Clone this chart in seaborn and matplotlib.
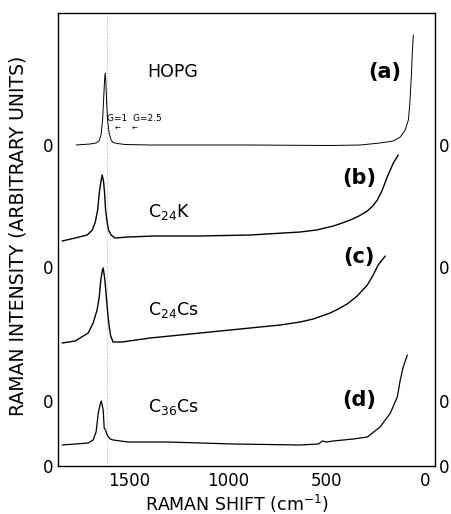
import numpy as np
import pandas as pd
import matplotlib
matplotlib.use("Agg")
import matplotlib.pyplot as plt
import seaborn as sns

# Raman shift (cm^-1) and intensity (arb. units, relative to each trace's own zero)
hopg_shift = [1768, 1697, 1667, 1652, 1642, 1634, 1629, 1624, 1621, 1618, 1614, 1609,
              1601, 1591, 1581, 1560, 1520, 1393, 886, 481, 329, 228, 161, 126, 101,
              85, 78, 70, 65, 60]
hopg_int = [0.00, 0.01, 0.02, 0.04, 0.10, 0.25, 0.45, 0.65, 0.72, 0.65, 0.45, 0.25,
            0.12, 0.05, 0.025, 0.015, 0.005, 0.0, 0.0, -0.005, 0.0, 0.02, 0.04, 0.08,
            0.15, 0.25, 0.40, 0.68, 0.92, 1.10]

c24k_shift = [1839, 1773, 1712, 1686, 1671, 1659, 1651, 1643, 1636, 1629, 1624, 1619,
              1611, 1604, 1591, 1571, 1505, 1368, 1139, 886, 633, 550, 465, 420, 379,
              335, 293, 265, 242, 217, 192, 161, 136]
c24k_int = [0.26, 0.29, 0.32, 0.37, 0.45, 0.57, 0.74, 0.85, 0.92, 0.85, 0.74, 0.57,
            0.45, 0.37, 0.32, 0.29, 0.30, 0.31, 0.31, 0.32, 0.35, 0.37, 0.41, 0.44, 0.47,
            0.51, 0.56, 0.61, 0.67, 0.77, 0.90, 1.04, 1.12]

c24cs_shift = [1839, 1773, 1707, 1682, 1662, 1651, 1643, 1636, 1631, 1623, 1616, 1609,
               1601, 1593, 1581, 1535, 1393, 1139, 886, 734, 633, 567, 481, 440, 395,
               344, 293, 263, 238, 202]
c24cs_int = [0.58, 0.60, 0.68, 0.78, 0.91, 1.04, 1.21, 1.30, 1.33, 1.22, 1.06, 0.90,
             0.75, 0.65, 0.59, 0.59, 0.63, 0.68, 0.73, 0.76, 0.79, 0.82, 0.88, 0.92, 0.97,
             1.05, 1.16, 1.26, 1.36, 1.45]

c36cs_shift = [1839, 1707, 1682, 1667, 1656, 1646, 1641, 1631, 1626, 1619, 1611, 1596,
               1581, 1505, 1307, 972, 633, 540, 521, 500, 465, 364, 293, 228, 176, 141,
               126, 111, 90]
c36cs_int = [0.21, 0.23, 0.26, 0.34, 0.53, 0.62, 0.65, 0.56, 0.38, 0.36, 0.31, 0.27,
             0.26, 0.24, 0.24, 0.22, 0.21, 0.22, 0.25, 0.24, 0.25, 0.27, 0.29, 0.39,
             0.53, 0.69, 0.86, 0.99, 1.11]

# vertical offset (zero level) of each trace
offsets = [3.21, 1.99, 0.65, 0.0]
names = ["HOPG", "C$_{24}$K", "C$_{24}$Cs", "C$_{36}$Cs"]
panels = ["(a)", "(b)", "(c)", "(d)"]

xticks = [1500, 1000, 500, 0]
ref_line = 1610

sns.set_style("white")
plt.rcParams['font.family'] = ['DejaVu Sans']
plt.rcParams['text.color'] = 'black'
plt.rcParams['axes.labelcolor'] = 'black'
plt.rcParams['xtick.color'] = 'black'
plt.rcParams['ytick.color'] = 'black'

fig = plt.figure(figsize=(4.51, 5.14), dpi=100)
ax = fig.add_axes([0.1286, 0.0934, 0.8359, 0.8813])

ax.axvline(ref_line, color="0.6", lw=0.6, ls=(0, (1, 2)), zorder=1)

spectra = [(hopg_shift, hopg_int), (c24k_shift, c24k_int),
           (c24cs_shift, c24cs_int), (c36cs_shift, c36cs_int)]
widths = [0.7, 1.0, 1.0, 0.9]
for (sx, si), off, lw in zip(spectra, offsets, widths):
    df = pd.DataFrame({"shift": sx, "intensity": np.array(si) + off})
    sns.lineplot(data=df, x="shift", y="intensity", ax=ax, color="black",
                 lw=lw, estimator=None, sort=False)

ax.set_xlim(1860, -50)
ax.set_ylim(0, 4.53)

ax.set_xticks(xticks)
ax.set_xticklabels([str(t) for t in xticks], fontsize=12)
ax.set_yticks(offsets)
ax.set_yticklabels(["0"] * len(offsets), fontsize=12)
ax.tick_params(axis="both", length=0, pad=4)
ax.tick_params(axis="y", labelright=True, pad=3)

for s in ax.spines.values():
    s.set_visible(True)
    s.set_color("black")
    s.set_linewidth(1.0)

ax.set_xlabel("RAMAN SHIFT (cm$^{-1}$)", fontsize=12.5)
ax.set_ylabel("RAMAN INTENSITY (ARBITRARY UNITS)", fontsize=13.5)
ax.xaxis.set_label_coords(0.475, -0.060)
ax.yaxis.set_label_coords(-0.082, 0.508)

# sample names
ax.text(1281, 3.94, names[0], fontsize=12.5, ha="center", va="center")
name_y = [None, 2.54, 1.56, 0.59]
for n, y in zip(names[1:], name_y[1:]):
    ax.text(1403, y, n, fontsize=12.5, ha="left", va="center")

# panel letters
panel_pos = [(206, 3.94), (333, 2.88), (333, 2.09), (333, 0.66)]
for p, (px, py) in zip(panels, panel_pos):
    ax.text(px, py, p, fontsize=15, fontweight="bold", ha="center", va="center",
            family=["Liberation Sans Narrow", "DejaVu Sans"])

# resolution markers
ax.text(1611, 3.48, "G=1  G=2.5", fontsize=6.5, ha="left", va="center")
ax.text(1560, 3.37, "\u2190", fontsize=5, ha="center", va="center")
ax.text(1474, 3.37, "\u2190", fontsize=5, ha="center", va="center")

fig.savefig("out.png", dpi=100)
